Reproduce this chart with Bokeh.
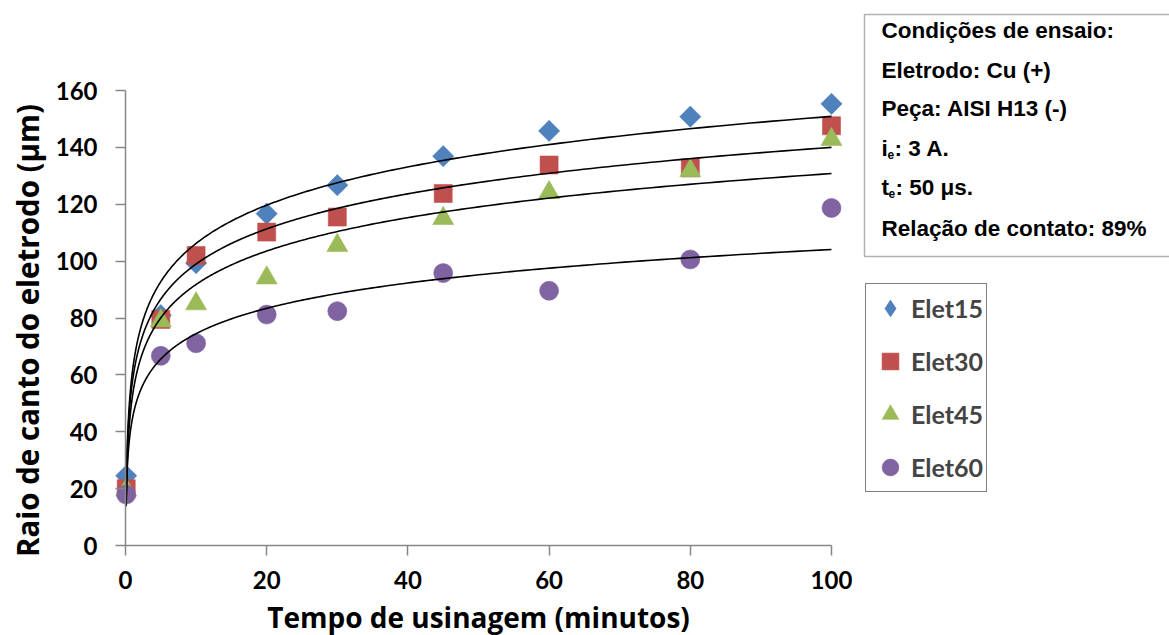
import numpy as np
from bokeh.plotting import figure
from bokeh.models import Range1d, Legend, LegendItem, Label, BoxAnnotation, FixedTicker
from bokeh.embed import file_html
from bokeh.resources import INLINE

# ---------------- data ----------------
times = [0.1, 5, 10, 20, 30, 45, 60, 80, 100]
elet15 = [24.5, 81, 99.3, 116.7, 126.7, 136.9, 145.8, 150.8, 155.3]
elet30 = [20.0, 79.5, 102.0, 110.2, 115.5, 123.8, 133.8, 132.8, 147.6]
elet45 = [19.5, 79.0, 85.0, 94.1, 105.5, 115.0, 124.1, 131.8, 142.8]
elet60 = [17.9, 66.7, 71.1, 81.2, 82.4, 95.8, 89.6, 100.6, 118.7]
series_names = ["Elet15", "Elet30", "Elet45", "Elet60"]
x_ticks = [0, 20, 40, 60, 80, 100]
y_ticks = [0, 20, 40, 60, 80, 100, 120, 140, 160]
x_title = "Tempo de usinagem (minutos)"
y_title = "Raio de canto do eletrodo (μm)"
info_title = "Condições de ensaio:"
info_lines = ["Eletrodo: Cu (+)", "Peça: AISI H13 (-)"]
info_ie = ("i", "e", ": 3 A.")
info_te = ("t", "e", ": 50 μs.")
info_last = "Relação de contato: 89%"

series_values = [elet15, elet30, elet45, elet60]
colors = ["#4F81BD", "#C0504D", "#9BBB59", "#8064A2"]
markers = ["square", "square", "triangle", "circle"]
angles = [np.pi / 4, 0, 0, 0]
sizes = [15, 18, 21, 19]

FONT = "Lato"
TITLE_FONT = "Open Sans"
INFO_FONT = "Liberation Sans"

W, H = 1169, 635
X0_PX, X100_PX = 125, 831         # pixel positions of x=0 and x=100
Y0_PX, Y160_PX = 545, 90          # pixel positions of y=0 and y=160
sx = (X100_PX - X0_PX) / 100.0
sy = (Y0_PX - Y160_PX) / 160.0

p = figure(width=W, height=H,
           x_range=Range1d(-X0_PX / sx, (W - X0_PX) / sx),
           y_range=Range1d(-(H - Y0_PX) / sy, Y0_PX / sy),
           output_backend="svg", toolbar_location=None,
           min_border_left=0, min_border_right=0,
           min_border_top=0, min_border_bottom=0)
p.outline_line_color = None
p.grid.visible = False
p.background_fill_color = "white"

for ax in (p.xaxis, p.yaxis):
    ax.axis_line_color = "#868686"
    ax.axis_line_width = 1.5
    ax.major_tick_line_color = "#868686"
    ax.major_tick_line_width = 1.5
    ax.minor_tick_line_color = None
    ax.major_tick_in = 0
    ax.major_tick_out = 10
    ax.major_label_text_font = FONT
    ax.major_label_text_font_style = "bold"
    ax.major_label_text_font_size = "24px"
    ax.major_label_text_color = "black"

p.xaxis.ticker = FixedTicker(ticks=x_ticks)
p.yaxis.ticker = FixedTicker(ticks=y_ticks)
p.xaxis.bounds = (0, 100)
p.yaxis.bounds = (0, 160)
p.xaxis.fixed_location = 0
p.yaxis.fixed_location = 0
p.xaxis.major_label_standoff = 15
p.yaxis.major_label_standoff = 18

# the legend draws markers unrotated: a plain diamond under the rotated squares
# of Elet15 supplies its legend symbol (it is fully covered in the plot)
diamond_r = p.scatter(times, elet15, marker="diamond", size=11,
                      fill_color=colors[0], line_color=colors[0], line_alpha=0.6)

renderers = []
for vals, c, m, a, s in zip(series_values, colors, markers, angles, sizes):
    r = p.scatter(times, vals, marker=m, angle=a, size=s,
                  fill_color=c, line_color=c, line_alpha=0.6)
    renderers.append(r)
legend_renderers = [diamond_r] + renderers[1:]

xs = np.geomspace(times[0], times[-1], 400)
for vals in series_values:
    k, b = np.polyfit(np.log(times), vals, 1)
    p.line(xs, k * np.log(xs) + b, line_color="black", line_width=1.6)

# axis titles
p.add_layout(Label(x=50, y=H - 616, y_units="screen", text=x_title,
                   text_font=TITLE_FONT, text_font_style="bold", text_font_size="28px",
                   text_align="center", text_baseline="middle", text_color="black"))
p.add_layout(Label(x=27, y=H - 330, x_units="screen", y_units="screen", text=y_title,
                   angle=np.pi / 2,
                   text_font=TITLE_FONT, text_font_style="bold", text_font_size="29.5px",
                   text_align="center", text_baseline="middle", text_color="black"))

legend = Legend(items=[LegendItem(label=n, renderers=[r]) for n, r in zip(series_names, legend_renderers)],
                location=(865, H - 492))
legend.border_line_color = "black"
legend.border_line_width = 1.5
legend.label_text_font = FONT
legend.label_text_font_style = "bold"
legend.label_text_font_size = "25px"
legend.glyph_width = 42
legend.glyph_height = 42
legend.spacing = 11
legend.padding = 3
legend.label_standoff = -8
legend.margin = 0
p.add_layout(legend, "center")

box = BoxAnnotation(left=864, right=1200, top=H - 14, bottom=H - 256,
                    left_units="screen", right_units="screen",
                    top_units="screen", bottom_units="screen",
                    fill_color="white", fill_alpha=1,
                    line_color="black", line_width=1.5)
p.add_layout(box)

def lab(x, y, t, size="22.5px"):
    p.add_layout(Label(x=x, y=H - y, x_units="screen", y_units="screen", text=t,
                       text_font=INFO_FONT, text_font_style="bold",
                       text_font_size=size, text_baseline="middle",
                       text_color="black"))

lab(881, 30, info_title)
lab(881, 70, info_lines[0])
lab(881, 108, info_lines[1])
lab(881, 148, info_ie[0])
lab(887, 154, info_ie[1], "12px")
lab(894, 148, info_ie[2])
lab(881, 187, info_te[0])
lab(888, 193, info_te[1], "12px")
lab(895, 187, info_te[2])
lab(881, 228, info_last)

open("out.html", "w").write(file_html(p, INLINE))
